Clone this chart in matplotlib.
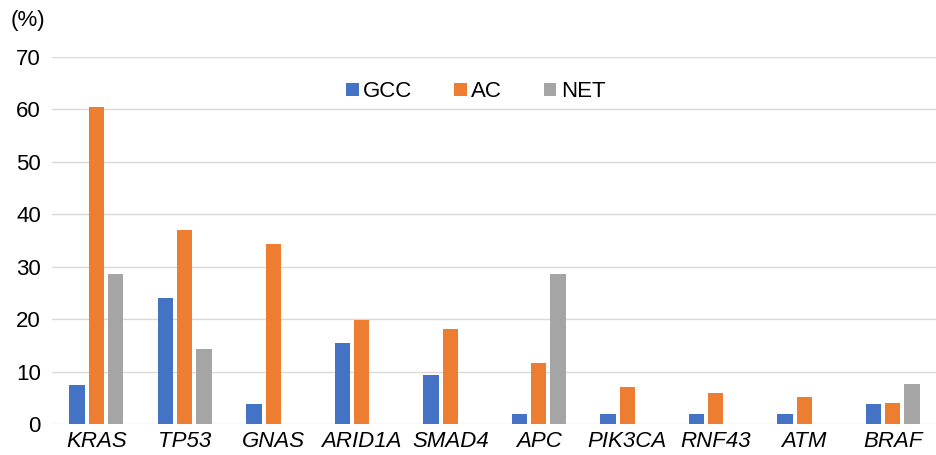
import numpy as np
import matplotlib
matplotlib.use("Agg")
import matplotlib.pyplot as plt

plt.rcParams['font.family'] = ['Liberation Sans', 'DejaVu Sans']

genes = ["KRAS", "TP53", "GNAS", "ARID1A", "SMAD4", "APC", "PIK3CA", "RNF43", "ATM", "BRAF"]
gcc = [7.5, 24.0, 3.8, 15.4, 9.4, 1.9, 1.9, 1.9, 1.9, 3.8]
ac = [60.4, 37.0, 34.4, 19.9, 18.2, 11.7, 7.0, 5.9, 5.2, 4.0]
net = [28.6, 14.3, 0, 0, 0, 28.6, 0, 0, 0, 7.6]

series = [("GCC", gcc, "#4472C4"), ("AC", ac, "#ED7D31"), ("NET", net, "#A5A5A5")]

fig = plt.figure(figsize=(9.37, 4.55), dpi=100)
ax = fig.add_axes([0.0555, 0.068, 0.9445, 0.807])

x = np.arange(len(genes))
w = 0.175
step = 0.22
for i, (name, vals, col) in enumerate(series):
    ax.bar(x + (i - 1) * step, vals, width=w, color=col, label=name, zorder=3)

ax.set_xlim(-0.5, len(genes) - 0.5)
ax.set_ylim(0, 70)
ax.set_yticks(range(0, 71, 10))
ax.set_xticks(x)
ax.set_xticklabels(genes, fontstyle="italic")
ax.tick_params(axis="both", length=0, labelsize=16, colors="black")
ax.tick_params(axis="y", pad=8)
ax.tick_params(axis="x", pad=5)
ax.grid(axis="y", color="#D9D9D9", linewidth=1, zorder=0)
for s in ax.spines.values():
    s.set_visible(False)

ax.legend(loc="center", bbox_to_anchor=(0.479, 0.905), ncol=3, frameon=False,
          fontsize=16, handlelength=0.55, handleheight=0.55, handletextpad=0.2,
          columnspacing=1.9)

fig.text(0.011, 0.955, "(%)", fontsize=16, va="center", ha="left")

fig.savefig("out.png", dpi=100)
